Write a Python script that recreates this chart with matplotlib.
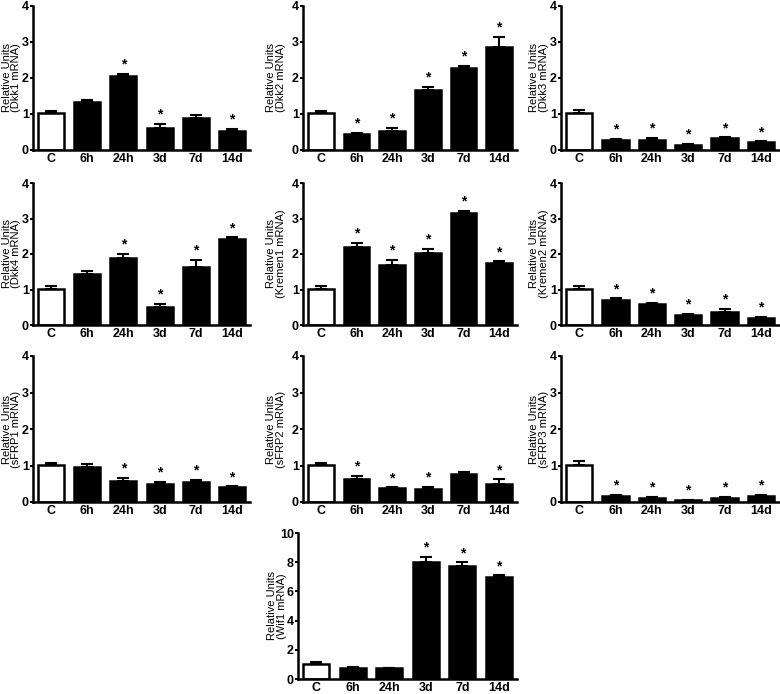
import numpy as np
import matplotlib
matplotlib.use('Agg')
import matplotlib.pyplot as plt

plt.rcParams['font.family'] = ['Liberation Sans', 'DejaVu Sans']

TIMES = ['C', '6h', '24h', '3d', '7d', '14d']

dkk1 = [1.02, 1.33, 2.05, 0.60, 0.90, 0.52]
dkk1_err = [0.07, 0.05, 0.06, 0.13, 0.06, 0.07]
dkk2 = [1.02, 0.45, 0.52, 1.68, 2.28, 2.85]
dkk2_err = [0.07, 0.03, 0.10, 0.07, 0.05, 0.30]
dkk3 = [1.02, 0.28, 0.28, 0.15, 0.32, 0.22]
dkk3_err = [0.10, 0.03, 0.06, 0.03, 0.03, 0.02]
dkk4 = [1.02, 1.43, 1.90, 0.52, 1.63, 2.42]
dkk4_err = [0.08, 0.10, 0.10, 0.08, 0.20, 0.05]
kremen1 = [1.02, 2.20, 1.70, 2.02, 3.15, 1.75]
kremen1_err = [0.08, 0.12, 0.13, 0.12, 0.07, 0.04]
kremen2 = [1.02, 0.70, 0.58, 0.28, 0.37, 0.20]
kremen2_err = [0.08, 0.05, 0.04, 0.04, 0.08, 0.03]
sfrp1 = [1.02, 0.97, 0.57, 0.48, 0.55, 0.40]
sfrp1_err = [0.05, 0.06, 0.09, 0.08, 0.06, 0.03]
sfrp2 = [1.02, 0.63, 0.37, 0.35, 0.78, 0.50]
sfrp2_err = [0.04, 0.08, 0.03, 0.07, 0.05, 0.12]
sfrp3 = [1.02, 0.17, 0.12, 0.05, 0.12, 0.17]
sfrp3_err = [0.10, 0.03, 0.02, 0.01, 0.02, 0.03]
wif1 = [1.05, 0.75, 0.72, 8.00, 7.75, 7.00]
wif1_err = [0.12, 0.05, 0.05, 0.38, 0.25, 0.10]

# which time points carry a significance star
stars = {
    'Dkk1': [0, 0, 1, 1, 0, 1],
    'Dkk2': [0, 1, 1, 1, 1, 1],
    'Dkk3': [0, 1, 1, 1, 1, 1],
    'Dkk4': [0, 0, 1, 1, 1, 1],
    'Kremen1': [0, 1, 1, 1, 1, 1],
    'Kremen2': [0, 1, 1, 1, 1, 1],
    'sFRP1': [0, 0, 1, 1, 1, 1],
    'sFRP2': [0, 1, 1, 1, 0, 1],
    'sFRP3': [0, 1, 1, 1, 1, 1],
    'Wif1': [0, 0, 0, 1, 1, 1],
}

W, H = 780, 694
fig = plt.figure(figsize=(W / 100, H / 100), dpi=100)


def px_axes(left, top, right, bottom):
    return fig.add_axes([left / W, 1 - bottom / H, (right - left) / W, (bottom - top) / H])


def panel(left, top, right, bottom, label_x, name, vals, errs, ymax, yticks):
    ax = px_axes(left, top, right, bottom)
    x = np.arange(len(TIMES))
    colors = ['white'] + ['black'] * (len(TIMES) - 1)
    ax.bar(x, vals, 0.72, color=colors, edgecolor='black', linewidth=1.8, zorder=2)
    ax.errorbar(x, vals, yerr=[np.zeros(len(vals)), errs], fmt='none', ecolor='black',
                elinewidth=1.5, capsize=4.5, capthick=1.5, zorder=3)
    for i, s in enumerate(stars[name]):
        if s:
            ax.text(x[i], vals[i] + errs[i] + ymax * 0.015, '*', ha='center', va='bottom',
                    fontsize=10, fontweight='bold')
    ax.set_xlim(-0.5, 5.5)
    ax.set_ylim(0, ymax)
    ax.set_yticks(yticks)
    ax.set_xticks(x)
    ax.set_xticklabels(TIMES)
    for sp in ['top', 'right']:
        ax.spines[sp].set_visible(False)
    for sp in ['left', 'bottom']:
        ax.spines[sp].set_linewidth(1.8)
    ax.tick_params(axis='y', length=2.5, width=1.5, labelsize=9, pad=0.5)
    ax.tick_params(axis='x', length=0, labelsize=9, pad=2)
    for lab in ax.get_xticklabels() + ax.get_yticklabels():
        lab.set_fontweight('bold')
    ax.set_ylabel('Relative Units\n(%s mRNA)' % name, fontsize=8, linespacing=0.95, va='center')
    ax.yaxis.set_label_coords((label_x - left) / (right - left), 0.5)
    return ax


# (left, right, label centre x) in pixels
cols = [(33, 250, 11.5), (303, 517, 276), (561, 779, 539)]
rows = [(6, 150), (183, 325), (356, 502)]
grid = [
    [('Dkk1', dkk1, dkk1_err), ('Dkk2', dkk2, dkk2_err), ('Dkk3', dkk3, dkk3_err)],
    [('Dkk4', dkk4, dkk4_err), ('Kremen1', kremen1, kremen1_err), ('Kremen2', kremen2, kremen2_err)],
    [('sFRP1', sfrp1, sfrp1_err), ('sFRP2', sfrp2, sfrp2_err), ('sFRP3', sfrp3, sfrp3_err)],
]
for r, (top, bottom) in enumerate(rows):
    for c, (left, right, lx) in enumerate(cols):
        name, v, e = grid[r][c]
        panel(left, top, right, bottom, lx, name, v, e, 4, [0, 1, 2, 3, 4])

panel(298, 533, 517, 679, 277, 'Wif1', wif1, wif1_err, 10, [0, 2, 4, 6, 8, 10])

fig.savefig('out.png', dpi=100)
